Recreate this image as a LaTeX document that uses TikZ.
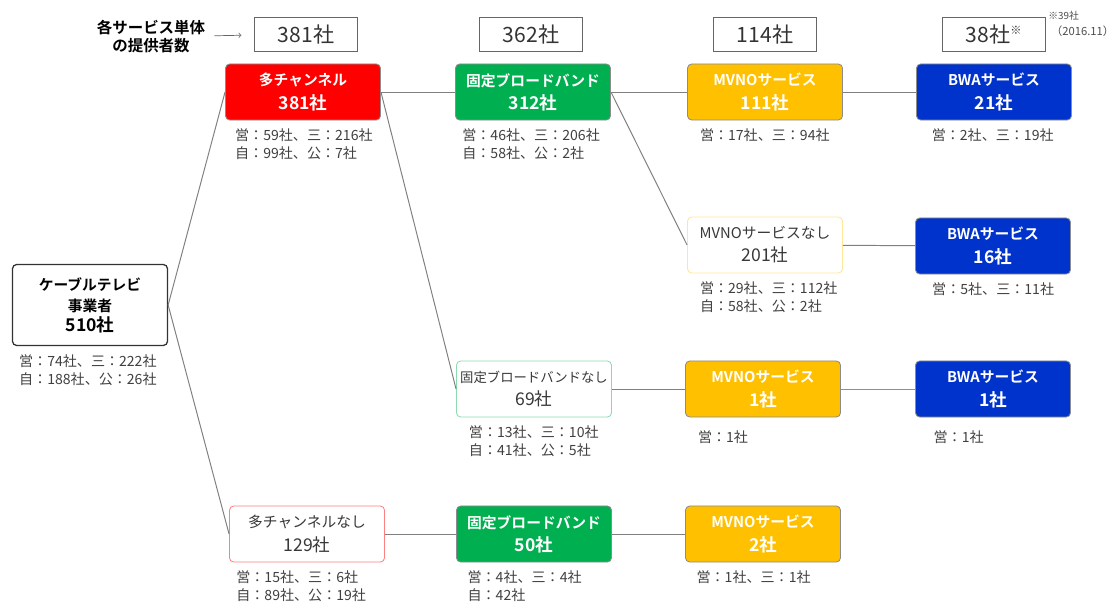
\documentclass[tikz,border=0pt]{standalone}
\usepackage{fontspec}
\setmainfont{Noto Sans CJK JP}[BoldFont={Noto Sans CJK JP Bold}]
\usetikzlibrary{positioning}
\definecolor{chred}{HTML}{FF0000}
\definecolor{bbgreen}{HTML}{00B050}
\definecolor{mvnoyel}{HTML}{FFC000}
\definecolor{bwablue}{HTML}{0033CC}
\definecolor{linkblue}{HTML}{6F8FE0}
\newcommand{\bignum}[1]{{\fontsize{12.5}{16}\selectfont #1}}

\begin{document}
\begin{tikzpicture}[x=0.025cm,y=-0.025cm,
  box/.style={rounded corners=3pt,draw=black!45,line width=0.6pt,minimum width=3.875cm,minimum height=1.4cm,inner sep=2pt,align=center,text=white,font=\bfseries\fontsize{10.5}{16.5}\selectfont},
  pale/.style={box,fill=white,text=black!78,font=\fontsize{10.5}{16.5}\selectfont},
  cnt/.style={draw=black!60,line width=0.6pt,minimum width=2.575cm,minimum height=0.85cm,text=black!80,font=\fontsize{15}{17}\selectfont},
  info/.style={align=left,inner sep=1pt,text=black!75,font=\fontsize{10}{12.8}\selectfont},
  link/.style={draw=black!50,line width=0.7pt}]
  \useasboundingbox (0,0) rectangle (1120,612);

  % counts per service
  \node[align=center,font=\bfseries\fontsize{11}{12.8}\selectfont] (hdr) at (151,37) {各サービス単体\\の提供者数};
  \node[cnt] (c1) at (306,34) {381社};
  \node[cnt] (c2) at (531,34) {362社};
  \node[cnt] (c3) at (765,34) {114社};
  \node[cnt] (c4) at (994,34) {38社\textsuperscript{\fontsize{8}{9}\selectfont ※}};
  \node[anchor=north west,align=left,inner sep=0pt,text=black!70,font=\fontsize{7}{11}\selectfont] (note) at (1048,11) {※39社\\\hspace*{2pt}{\fontsize{8}{9}\selectfont（2016.11）}};
  \draw[->,draw=black!60,line width=0.5pt,shorten <=3pt,shorten >=9pt] (hdr) -- (c1);

  % boxes
  \node[box,draw=black!80,fill=white,text=black,minimum height=2.025cm,line width=0.9pt,font=\bfseries\fontsize{10.5}{15}\selectfont] (catv) at (90,305) {ケーブルテレビ\\事業者\\[-1pt]{\fontsize{12.5}{15}\selectfont 510社}};
  \node[box,fill=chred] (mch) at (303,92) {多チャンネル\\\bignum{381社}};
  \node[pale,draw=chred!50] (nomch) at (307,534) {多チャンネルなし\\\bignum{129社}};
  \node[box,fill=bbgreen] (fbb) at (533,92) {固定ブロードバンド\\\bignum{312社}};
  \node[pale,draw=bbgreen!45,font=\fontsize{9.5}{16.5}\selectfont] (nofbb) at (534,389) {固定ブロードバンドなし\\\bignum{69社}};
  \node[box,fill=bbgreen] (fbb4) at (534,534) {固定ブロードバンド\\\bignum{50社}};
  \node[box,fill=mvnoyel] (mvno) at (765,92) {MVNOサービス\\\bignum{111社}};
  \node[pale,draw=mvnoyel!40] (nomvno) at (765,245) {MVNOサービスなし\\\bignum{201社}};
  \node[box,fill=mvnoyel] (mvno3) at (763,389) {MVNOサービス\\\bignum{1社}};
  \node[box,fill=mvnoyel] (mvno4) at (763,534) {MVNOサービス\\\bignum{2社}};
  \node[box,fill=bwablue] (bwa) at (994,92) {BWAサービス\\\bignum{21社}};
  \node[box,fill=bwablue] (bwa2) at (993,246) {BWAサービス\\\bignum{16社}};
  \node[box,fill=bwablue] (bwa3) at (993,389) {BWAサービス\\\bignum{1社}};

  % breakdowns
  \node[info,below right=5pt and 4pt of catv.south west] (catvi) {営：74社、三：222社\\自：188社、公：26社};
  \node[info,below right=5pt and 6pt of mch.south west] (mchi) {営：59社、三：216社\\自：99社、公：7社};
  \node[info,below right=5pt and 4pt of nomch.south west] (nomchi) {営：15社、三：6社\\自：89社、公：19社};
  \node[info,below right=5pt and 4pt of fbb.south west] (fbbi) {営：46社、三：206社\\自：58社、公：2社};
  \node[info,below right=5pt and 8pt of nofbb.south west] (nofbbi) {営：13社、三：10社\\自：41社、公：5社};
  \node[info,below right=5pt and 7pt of fbb4.south west] (fbb4i) {営：4社、三：4社\\自：42社};
  \node[info,below right=5pt and 8pt of mvno.south west] (mvnoi) {営：17社、三：94社};
  \node[info,below right=5pt and 8pt of nomvno.south west] (nomvnoi) {営：29社、三：112社\\自：58社、公：2社};
  \node[info,below right=8pt and 8pt of mvno3.south west] (mvno3i) {営：1社};
  \node[info,below right=5pt and 7pt of mvno4.south west] (mvno4i) {営：1社、三：1社};
  \node[info,below right=5pt and 10pt of bwa.south west] (bwai) {営：2社、三：19社};
  \node[info,below right=5pt and 11pt of bwa2.south west] (bwa2i) {営：5社、三：11社};
  \node[info,below right=8pt and 12pt of bwa3.south west] (bwa3i) {営：1社};

  % links
  \draw[link] (catv.east) -- (mch.west);
  \draw[link] (catv.east) -- (nomch.west);
  \draw[link] (mch.east) -- (fbb.west);
  \draw[link] (mch.east) -- (nofbb.west);
  \draw[link] (fbb.east) -- (mvno.west);
  \draw[link] (fbb.east) -- (nomvno.west);
  \draw[link] (mvno) -- (bwa);
  \draw[link] (nomvno) -- (bwa2);
  \draw[link] (nofbb) -- (mvno3);
  \draw[link,draw=linkblue] (mvno3) -- (bwa3);
  \draw[link] (nomch) -- (fbb4) -- (mvno4);
\end{tikzpicture}
\end{document}
